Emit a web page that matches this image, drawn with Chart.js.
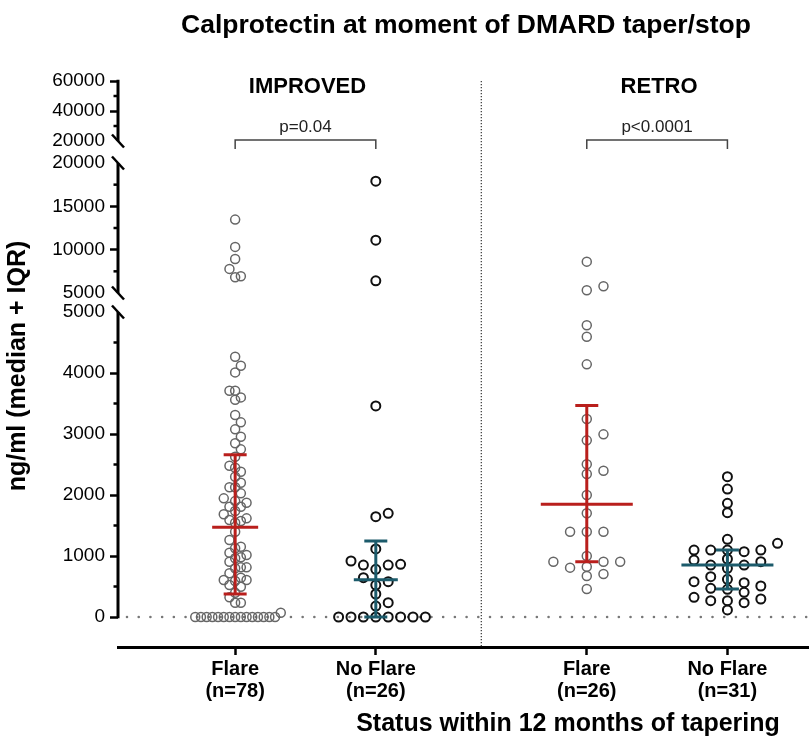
<!DOCTYPE html>
<html>
<head>
<meta charset="utf-8">
<script src="https://cdn.jsdelivr.net/npm/chart.js@4"></script>
<style>
  html, body { margin: 0; padding: 0; background: #fff; }
</style>
</head>
<body>
<canvas id="calpro-chart" width="809" height="755"></canvas>
<script>
  // x groups
  const groupLabels = [['Flare', '(n=78)'], ['No Flare', '(n=26)'], ['Flare', '(n=26)'], ['No Flare', '(n=31)']];
  const groupPos = [1, 2, 3.5, 4.5];
  const dividerPos = 2.75;
  const panelNames = ['IMPROVED', 'RETRO'];
  const pValues = ['p=0.04', 'p<0.0001'];

  // calprotectin per patient (ng/ml)
  const improvedFlare = [13470, 10320, 8930, 7780, 6930, 6810,
    4266, 4119, 4010, 3709, 3709, 3600, 3560, 3311, 3191, 3076,
    2955, 2847, 2748, 2627, 2480, 2447, 2381, 2300, 2201, 2126,
    2126, 2027, 1945, 1900, 1873, 1808, 1808, 1737, 1683, 1617,
    1590, 1573, 1546, 1398, 1262, 1152, 1126, 1054, 1016, 978,
    962, 906, 814, 814, 798, 716, 644, 606, 606, 590,
    524, 497, 398, 322, 235, 235, 71,
    0, 0, 0, 0, 0, 0, 0, 0, 0, 0, 0, 0, 0, 0, 0];
  const improvedNoFlare = [17900, 11100, 6400, 3460, 1700, 1644, 1115, 918, 864, 852,
    852, 782, 644, 579, 524, 377, 235, 180, 0, 0, 0, 0, 0, 0, 0, 0];
  const retroFlare = [8620, 5780, 5310, 4782, 4594, 4142, 3245, 2994, 2896, 2503,
    2398, 2344, 2000, 1700, 1398, 1398, 1398, 1000, 906, 906, 906, 825, 809, 705, 672, 459];
  const retroNoFlare = [2300, 2098, 1863, 1710, 1273, 1208, 1098, 1098, 1098, 1098,
    1070, 951, 934, 906, 852, 852, 798, 661, 618, 579, 562, 508, 470, 454, 405,
    323, 295, 267, 267, 234, 115];

  // median + IQR
  const medians = [1472, 611, 1850, 852];
  const q1s = [379, 0, 906, 459];
  const q3s = [2660, 1247, 3469, 1098];

  // broken y axis
  const topTicks = [20000, 40000, 60000];
  const midTicks = [5000, 10000, 15000, 20000];
  const botTicks = [0, 1000, 2000, 3000, 4000, 5000];
  const topMinor = [30000, 50000];
  const midMinor = [7500, 12500, 17500];
  const botMinor = [500, 1500, 2500, 3500, 4500];

  const FONT = "'Liberation Sans', Arial, Helvetica, sans-serif";
  const RED = '#b91f1c';
  const TEAL = '#1c5b6b';

  // segment heights in px, plus the part of the gap that belongs to each one
  const segments = [
    { id: 'yTop', min: 20000, max: 60000, h: 60, padTop: 0, padBot: 11, ticks: topTicks, minor: topMinor, hide: [20000], weight: 3 },
    { id: 'yMid', min: 5000, max: 20000, h: 130, padTop: 11, padBot: 9.5, ticks: midTicks, minor: midMinor, hide: [5000, 20000], weight: 2 },
    { id: 'yBot', min: 0, max: 5000, h: 305, padTop: 9.5, padBot: 30, ticks: botTicks, minor: botMinor, hide: [5000], weight: 1 }
  ];

  function axisFor(v) {
    if (v > 20000) return 'yTop';
    if (v > 5000) return 'yMid';
    return 'yBot';
  }

  // step: sideways step in px, gx/gy: how close two circles may sit
  const groups = [
    { values: improvedFlare, color: '#666', width: 1.5, step: 5.7, gx: 5.6, gy: 9, medianHalf: 23 },
    { values: improvedNoFlare, color: '#111', width: 2, step: 6.2, gx: 11, gy: 9, medianHalf: 22 },
    { values: retroFlare, color: '#666', width: 1.5, step: 16.7, gx: 9, gy: 9, medianHalf: 46 },
    { values: retroNoFlare, color: '#111', width: 2, step: 16.7, gx: 9, gy: 9, medianHalf: 46 }
  ];

  const datasets = [];
  groups.forEach((g, gi) => {
    const x = groupPos[gi];
    const barColor = gi % 2 === 0 ? RED : TEAL;
    datasets.push({
      type: 'line', data: [{ x: x, y: q1s[gi] }, { x: x, y: q3s[gi] }], yAxisID: 'yBot',
      borderColor: barColor, borderWidth: 3, pointRadius: 0, order: 1
    });
    datasets.push({
      type: 'scatter', data: [{ x: x, y: q1s[gi] }, { x: x, y: q3s[gi] }], yAxisID: 'yBot',
      pointStyle: 'line', pointRadius: 11.5, pointBorderWidth: 3, pointBorderColor: barColor, order: 1
    });
    datasets.push({
      type: 'scatter', data: [{ x: x, y: medians[gi] }], yAxisID: 'yBot',
      pointStyle: 'line', pointRadius: g.medianHalf, pointBorderWidth: 3, pointBorderColor: barColor, order: 1
    });
    ['yMid', 'yBot'].forEach(id => {
      const pts = g.values.filter(v => axisFor(v) === id).map(v => ({ x: x, y: v, g: gi }));
      datasets.push({
        type: 'scatter', data: pts, yAxisID: id,
        pointRadius: 4.5, pointBorderWidth: g.width, pointBorderColor: g.color,
        pointBackgroundColor: 'rgba(0,0,0,0)', order: 2
      });
    });
  });

  const yScales = {};
  segments.forEach(s => {
    const per = (s.max - s.min) / s.h;
    yScales[s.id] = {
      type: 'linear', position: 'left', stack: 'y', stackWeight: s.h + s.padTop + s.padBot, weight: s.weight,
      min: s.min - s.padBot * per, max: s.max + s.padTop * per,
      afterBuildTicks: scale => { scale.ticks = s.ticks.map(v => ({ value: v })); },
      afterFit: scale => { scale.width = 118; },
      border: { display: false },
      grid: {
        drawOnChartArea: false, tickLength: 8, tickWidth: 2.5,
        tickColor: c => (c.tick && s.hide.includes(c.tick.value)) ? 'rgba(0,0,0,0)' : '#000'
      },
      ticks: { color: '#000', padding: 5, autoSkip: false, font: { family: FONT, size: 19 }, callback: v => String(v) }
    };
  });

  const decorations = {
    id: 'decorations',
    beforeDatasetsDraw(chart) {
      const { ctx, chartArea: a, scales } = chart;
      const y0 = scales.yBot.getPixelForValue(0);
      ctx.save();
      ctx.strokeStyle = '#777';
      ctx.lineWidth = 2.6;
      ctx.lineCap = 'round';
      ctx.setLineDash([0.01, 11.7]);
      ctx.beginPath(); ctx.moveTo(a.left + 9, y0); ctx.lineTo(a.right, y0); ctx.stroke();
      const xd = scales.x.getPixelForValue(dividerPos);
      ctx.strokeStyle = '#333';
      ctx.lineWidth = 1.2;
      ctx.lineCap = 'butt';
      ctx.setLineDash([1.2, 1.8]);
      ctx.beginPath(); ctx.moveTo(xd, a.top); ctx.lineTo(xd, a.bottom); ctx.stroke();
      ctx.restore();
    },
    afterDraw(chart) {
      const { ctx, chartArea: a, scales } = chart;
      const left = a.left;
      ctx.save();
      // y axis segments with break marks
      segments.forEach((s, i) => {
        const sc = scales[s.id];
        const pTop = sc.getPixelForValue(s.max), pBot = sc.getPixelForValue(s.min);
        ctx.strokeStyle = '#000';
        ctx.lineWidth = 3;
        ctx.beginPath(); ctx.moveTo(left, pTop - (i === 0 ? 1.25 : 0)); ctx.lineTo(left, pBot + (i === 2 ? 1.25 : 0)); ctx.stroke();
        ctx.lineWidth = 2.5;
        s.minor.forEach(v => {
          const p = sc.getPixelForValue(v);
          ctx.beginPath(); ctx.moveTo(left - 4.5, p); ctx.lineTo(left, p); ctx.stroke();
        });
        const ends = [];
        if (i > 0) ends.push(pTop);
        if (i < 2) ends.push(pBot);
        ends.forEach(p => {
          ctx.beginPath(); ctx.moveTo(left - 6, p - 6.5); ctx.lineTo(left + 6, p + 6.5); ctx.stroke();
        });
      });

      // p value brackets and panel names
      const by = scales.yTop.getPixelForValue(20000) - 1;
      ctx.strokeStyle = '#444';
      ctx.lineWidth = 1.5;
      ctx.textAlign = 'center';
      ctx.textBaseline = 'middle';
      [[0, 1], [2, 3]].forEach((pair, k) => {
        const x1 = scales.x.getPixelForValue(groupPos[pair[0]]);
        const x2 = scales.x.getPixelForValue(groupPos[pair[1]]);
        ctx.beginPath();
        ctx.moveTo(x1, by + 9); ctx.lineTo(x1, by); ctx.lineTo(x2, by); ctx.lineTo(x2, by + 9);
        ctx.stroke();
        ctx.fillStyle = '#222';
        ctx.font = '17px ' + FONT;
        ctx.fillText(pValues[k], (x1 + x2) / 2, by - 13);
        ctx.fillStyle = '#000';
        ctx.font = 'bold 22px ' + FONT;
        ctx.fillText(panelNames[k], (x1 + x2) / 2 + 2, a.top + 6);
      });

      // titles
      ctx.fillStyle = '#000';
      ctx.font = 'bold 26.5px ' + FONT;
      ctx.fillText('Calprotectin at moment of DMARD taper/stop', 466, 26);
      ctx.font = 'bold 25px ' + FONT;
      ctx.fillText('Status within 12 months of tapering', 568, 724);
      ctx.translate(18, 366);
      ctx.rotate(-Math.PI / 2);
      ctx.fillText('ng/ml (median + IQR)', 0, 0);
      ctx.restore();
    }
  };

  // spread points of each group sideways so they do not pile up
  function spreadPoints(chart) {
    const xs = chart.scales.x;
    const unit = xs.getPixelForValue(1) - xs.getPixelForValue(0);
    groups.forEach((g, gi) => {
      const pts = [];
      chart.data.datasets.forEach(ds => {
        ds.data.forEach(p => {
          if (p.g === gi) pts.push({ p: p, py: chart.scales[ds.yAxisID].getPixelForValue(p.y) });
        });
      });
      pts.sort((a, b) => b.py - a.py);
      const placed = [];
      pts.forEach(pt => {
        let dx = 0;
        for (let k = 0; k < 80; k++) {
          const off = (k === 0 ? 0 : (k % 2 ? 1 : -1) * Math.ceil(k / 2)) * g.step;
          const hit = placed.some(q => {
            const ex = (q.dx - off) / g.gx, ey = (q.py - pt.py) / g.gy;
            return ex * ex + ey * ey < 0.98;
          });
          if (!hit) { dx = off; break; }
        }
        placed.push({ dx: dx, py: pt.py });
        pt.p.x = groupPos[gi] + dx / unit;
      });
    });
    chart.update();
  }

  window.onload = () => {
    const ctx = document.getElementById('calpro-chart').getContext('2d');
    const chart = new Chart(ctx, {
      data: { datasets: datasets },
      options: {
        responsive: false,
        animation: false,
        devicePixelRatio: 1,
        layout: { autoPadding: false, padding: { top: 81, left: 0, right: 0, bottom: 0 } },
        plugins: { legend: { display: false }, tooltip: { enabled: false } },
        scales: Object.assign({
          x: {
            type: 'linear', position: 'bottom', min: 0.167, max: 5.08,
            afterBuildTicks: scale => { scale.ticks = groupPos.map(v => ({ value: v })); },
            afterFit: scale => { scale.height = 108; },
            border: { display: true, color: '#000', width: 3 },
            grid: { drawOnChartArea: false, tickLength: 8, tickWidth: 2.5, tickColor: '#000' },
            ticks: {
              color: '#000', padding: 3, maxRotation: 0, autoSkip: false,
              font: { family: FONT, size: 20, weight: 'bold', lineHeight: 1.1 },
              callback: v => groupLabels[groupPos.indexOf(v)]
            }
          }
        }, yScales)
      },
      plugins: [decorations]
    });
    spreadPoints(chart);
  };
</script>
</body>
</html>
